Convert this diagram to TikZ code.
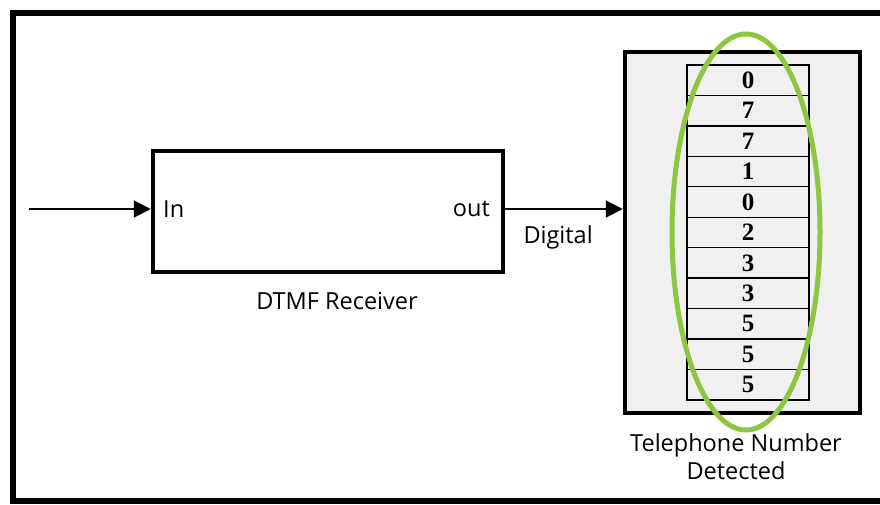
\documentclass[tikz,border=0pt]{standalone}
\usepackage{fontspec}
\setmainfont{Open Sans}
\newfontfamily\digitfont{Liberation Serif}
\usepackage{tikz}
\usetikzlibrary{positioning}
\usetikzlibrary{arrows.meta}
\definecolor{panelgray}{RGB}{240,240,240}
\definecolor{ringgreen}{RGB}{141,198,63}
\tikzset{
  sig/.style = {line width=2pt, -{Triangle[length=17pt,width=17pt]}},
  lbl/.style = {font=\fontsize{23.5}{28}\selectfont, inner sep=0pt},
  cell/.style = {draw, line width=1.4pt, minimum width=122pt, minimum height=30.45pt,
                 inner sep=0pt, font=\digitfont\bfseries\fontsize{25}{25}\selectfont}
}
\begin{document}
\begin{tikzpicture}[x=1pt,y=1pt]
        \useasboundingbox (0,0) rectangle (880,504);
        \draw[line width=5.5pt] (13,491) rectangle (900,3);
        % receiver block
        \node[draw, line width=4.5pt, minimum width=350pt, minimum height=121pt] (rx) at (328,292.5) {};
        \node[lbl, anchor=west] (rxin) at (163,295) {In};
        \node[lbl, anchor=east] (rxout) at (490,295) {out};
        \node[lbl] (rxname) at (337,203) {DTMF Receiver};
        % number display
        \node[draw, fill=panelgray, line width=4.5pt, minimum width=235pt, minimum height=361pt] (disp) at (742.5,271.5) {};
        \foreach \d [count=\i] in {0,7,7,1,0,2,3,3,5,5,5}
          \node[cell] (c\i) at (748,{439-15.225-(\i-1)*30.45}) {\d};
        \draw[ringgreen, line width=5pt] (746,272) ellipse [x radius=74, y radius=198];
        \node[lbl, align=center] (dispname) at (736,47) {Telephone Number\\Detected};
        % signals
        \coordinate (src) at (29,295);
        \draw[sig] (src) -- (src -| rx.west);
        \draw[sig] (rx.east |- src) -- (src -| disp.west) node[lbl, pos=0.45, below=16pt] (dig) {Digital};
\end{tikzpicture}
\end{document}
